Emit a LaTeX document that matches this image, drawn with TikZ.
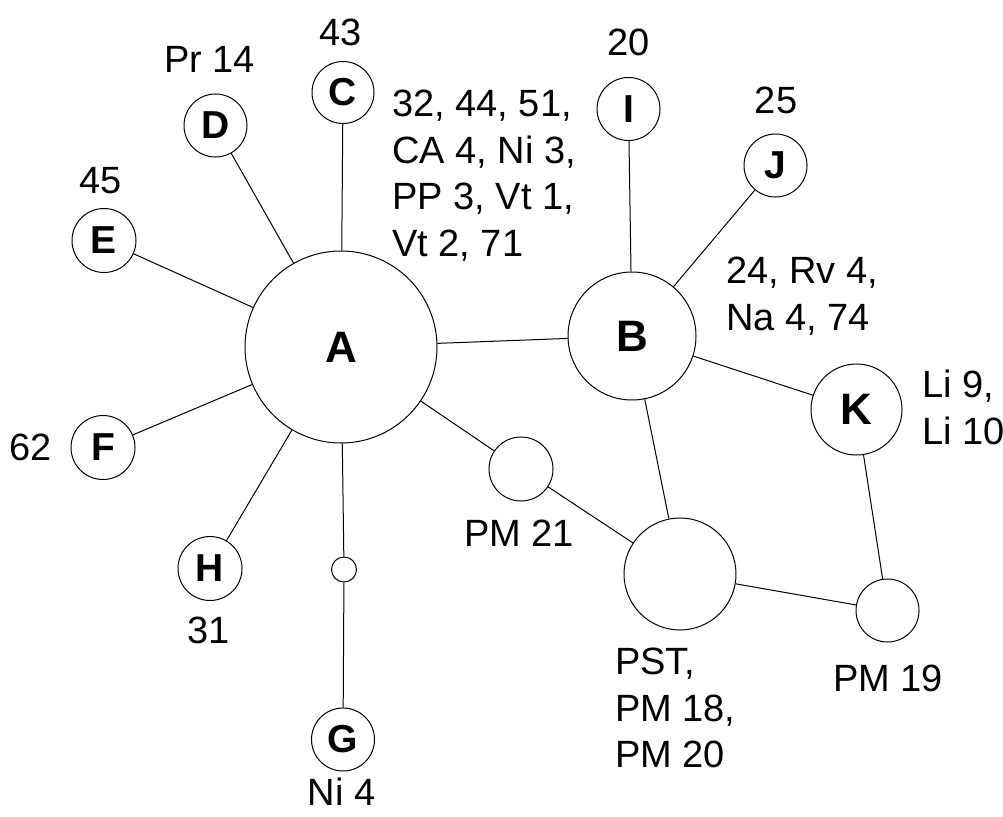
\documentclass[tikz,border=0pt]{standalone}
\usepackage{fontspec}
\setmainfont{Liberation Sans}
\begin{document}
\begin{tikzpicture}[x=1pt,y=-1pt]
\tikzset{
  bub/.style={circle,draw,line width=1pt,inner sep=0pt,minimum size=#1,
    font=\fontsize{39}{46}\selectfont\bfseries},
  bigbub/.style={bub=#1,font=\fontsize{44}{52}\selectfont\bfseries},
  lbl/.style={inner sep=0pt,font=\fontsize{38}{46.5}\selectfont,align=left},
  link/.style={line width=1pt}
}
\useasboundingbox (0,0) rectangle (1003,816);

% haplotype circles
\node[bigbub=192pt] (A) at (341,347) {A};
\node[bigbub=128pt] (B) at (632,336) {B};
\node[bub=62pt] (C) at (343,92.5) {C};
\node[bub=63pt] (D) at (215.5,125.5) {D};
\node[bub=64pt] (E) at (104,240.5) {E};
\node[bub=64pt] (F) at (103,447.5) {F};
\node[bub=64pt] (H) at (210,568.5) {H};
\node[bub=25pt] (s) at (344,569.5) {};
\node[bub=63pt] (G) at (343,739.5) {G};
\node[bub=63pt] (I) at (628.5,109) {I};
\node[bub=63pt] (J) at (775.5,165.5) {J};
\node[bigbub=91pt] (K) at (856.5,409.5) {K};
\node[bub=64pt] (p21) at (521,469) {};
\node[bub=112pt] (pst) at (680,574) {};
\node[bub=63pt] (p19) at (887.5,610.5) {};

% connections
\draw[link] (A) -- (C);
\draw[link] (A) -- (D);
\draw[link] (A) -- (E);
\draw[link] (A) -- (F);
\draw[link] (A) -- (H);
\draw[link] (A) -- (s);
\draw[link] (s) -- (G);
\draw[link] (A) -- (B);
\draw[link] (A) -- (p21);
\draw[link] (p21) -- (pst);
\draw[link] (B) -- (I);
\draw[link] (B) -- (J);
\draw[link] (B) -- (K);
\draw[link] (B) -- (pst);
\draw[link] (K) -- (p19);
\draw[link] (pst) -- (p19);

% labels
\node[lbl] (lC) at (341,32) {43};
\node[lbl] (lD) at (209.5,59.5) {Pr 14};
\node[lbl] (lE) at (101,180.5) {45};
\node[lbl] (lF) at (31,447.5) {62};
\node[lbl] (lH) at (208.5,630) {31};
\node[lbl] (lG) at (341.5,792) {Ni 4};
\node[lbl] (lI) at (628.5,42.5) {20};
\node[lbl] (lJ) at (776,100.5) {25};
\node[lbl,anchor=north west] (lA) at (392,90) {32, 44, 51,\\CA 4, Ni 3,\\PP 3, Vt 1,\\Vt 2, 71};
\node[lbl,anchor=north west] (lB) at (726,257) {24, Rv 4,\\Na 4, 74};
\node[lbl,anchor=north west] (lK) at (922,370) {Li 9,\\Li 10};
\node[lbl] (l21) at (519,533) {PM 21};
\node[lbl,anchor=north west] (lpst) at (615,648) {PST,\\PM 18,\\PM 20};
\node[lbl] (l19) at (888,678) {PM 19};
\end{tikzpicture}
\end{document}
